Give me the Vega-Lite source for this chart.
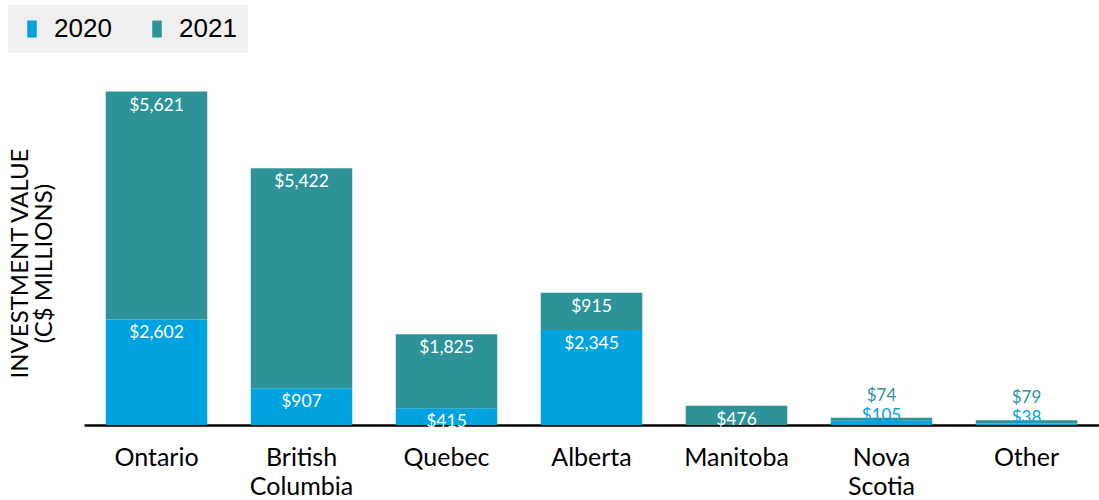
{
  "$schema": "https://vega.github.io/schema/vega-lite/v6.json",
  "autosize": "none",
  "width": 1015,
  "height": 365,
  "padding": {"left": 84, "top": 60, "right": 0, "bottom": 75},
  "background": "white",
  "config": {"view": {"stroke": null}, "font": "Lato"},
  "data": {
    "values": [
      {"province": "Ontario", "year": "2020", "value": 2602},
      {"province": "Ontario", "year": "2021", "value": 5621},
      {"province": "British Columbia", "year": "2020", "value": 907},
      {"province": "British Columbia", "year": "2021", "value": 5422},
      {"province": "Quebec", "year": "2020", "value": 415},
      {"province": "Quebec", "year": "2021", "value": 1825},
      {"province": "Alberta", "year": "2020", "value": 2345},
      {"province": "Alberta", "year": "2021", "value": 915},
      {"province": "Manitoba", "year": "2021", "value": 476},
      {"province": "Nova Scotia", "year": "2020", "value": 105},
      {"province": "Nova Scotia", "year": "2021", "value": 74},
      {"province": "Other", "year": "2020", "value": 38},
      {"province": "Other", "year": "2021", "value": 79}
    ]
  },
  "transform": [
    {"stack": "value", "groupby": ["province"], "sort": [{"field": "year", "order": "ascending"}], "as": ["v0", "v1"]}
  ],
  "encoding": {
    "x": {
      "field": "province", "type": "nominal", "sort": null,
      "scale": {"paddingInner": 0.3, "paddingOuter": 0.15},
      "axis": {
        "title": null, "labelAngle": 0, "ticks": false,
        "labelFont": "Lato", "labelFontSize": 25, "labelColor": "black",
        "labelPadding": 20, "labelLineHeight": 29,
        "labelExpr": "split(datum.label, ' ')",
        "domainColor": "black", "domainWidth": 2.5
      }
    }
  },
  "layer": [
    {
      "mark": {"type": "bar"},
      "encoding": {
        "y": {
          "field": "v1", "type": "quantitative",
          "scale": {"domain": [0, 9000], "nice": false},
          "axis": {
            "title": ["INVESTMENT VALUE", "(C$ MILLIONS)"],
            "labels": false, "ticks": false, "domain": false, "grid": false,
            "titleFont": "Lato", "titleFontSize": 24, "titleFontWeight": "normal",
            "titleColor": "black", "titleLineHeight": 24,
            "titleBaseline": "middle", "titleX": -64, "titleY": 203, "titleAngle": -90
          }
        },
        "y2": {"field": "v0"},
        "color": {
          "field": "year", "type": "nominal",
          "scale": {"domain": ["2020", "2021"], "range": ["#00A3E0", "#2E9399"]},
          "legend": {
            "title": null, "orient": "none", "direction": "horizontal",
            "legendX": -76, "legendY": -55,
            "fillColor": "#efefef", "padding": 11,
            "symbolType": "M-0.56,-1H0.56V1H-0.56Z", "symbolSize": 289,
            "symbolStrokeWidth": 0, "symbolOpacity": 1,
            "labelFont": "Liberation Sans", "labelFontSize": 26, "labelColor": "black",
            "labelOffset": 9, "columnPadding": 32
          }
        }
      }
    },
    {
      "transform": [{"filter": "datum.province != 'Nova Scotia' && datum.province != 'Other'"}],
      "mark": {"type": "text", "color": "white", "dy": 14, "baseline": "middle", "font": "Lato", "fontSize": 17.5},
      "encoding": {
        "y": {"field": "v1", "type": "quantitative"},
        "text": {"field": "value", "type": "quantitative", "format": "$,.0f"}
      }
    },
    {
      "transform": [{"filter": "(datum.province == 'Nova Scotia' || datum.province == 'Other') && datum.year == '2021'"}],
      "mark": {"type": "text", "color": "#2E9399", "dy": -22, "baseline": "middle", "font": "Lato", "fontSize": 17},
      "encoding": {
        "y": {"field": "v1", "type": "quantitative"},
        "text": {"field": "value", "type": "quantitative", "format": "$,.0f"}
      }
    },
    {
      "transform": [{"filter": "(datum.province == 'Nova Scotia' || datum.province == 'Other') && datum.year == '2020'"}],
      "mark": {"type": "text", "color": "#00A3E0", "dy": -5, "baseline": "middle", "font": "Lato", "fontSize": 17},
      "encoding": {
        "y": {"field": "v1", "type": "quantitative"},
        "text": {"field": "value", "type": "quantitative", "format": "$,.0f"}
      }
    }
  ]
}
